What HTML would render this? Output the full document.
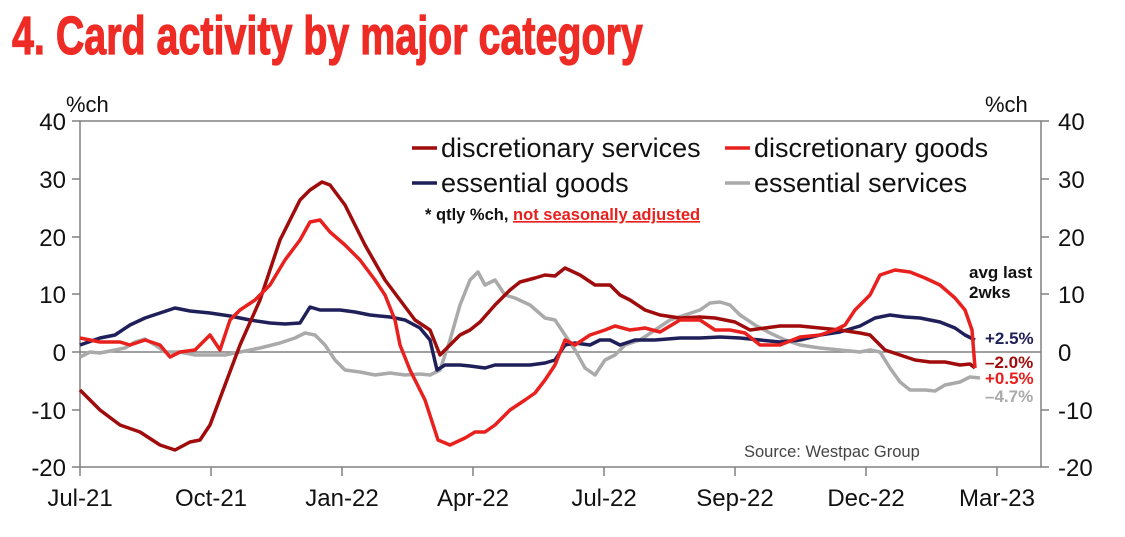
<!DOCTYPE html>
<html><head><meta charset="utf-8"><style>
body{margin:0;background:#fff;width:1125px;height:532px;overflow:hidden;font-family:"Liberation Sans",sans-serif}
</style></head><body>
<svg width="1125" height="532" viewBox="0 0 1125 532" xmlns="http://www.w3.org/2000/svg" font-family="Liberation Sans, sans-serif">
<text x="12" y="54" font-size="54" font-weight="bold" fill="#EE2B24" stroke="#EE2B24" stroke-width="1.2" transform="translate(12 0) scale(0.73 1) translate(-12 0)">4. Card activity by major category</text>
<g stroke="#808080" stroke-width="1.5" fill="none">
<rect x="80" y="121" width="961" height="346"/>
<line x1="80" y1="352" x2="1041" y2="352"/>
<line x1="72" y1="121" x2="80" y2="121"/><line x1="72" y1="179" x2="80" y2="179"/><line x1="72" y1="237" x2="80" y2="237"/><line x1="72" y1="294" x2="80" y2="294"/><line x1="72" y1="352" x2="80" y2="352"/><line x1="72" y1="410" x2="80" y2="410"/><line x1="72" y1="467" x2="80" y2="467"/>
<line x1="1041" y1="121" x2="1049" y2="121"/><line x1="1041" y1="179" x2="1049" y2="179"/><line x1="1041" y1="237" x2="1049" y2="237"/><line x1="1041" y1="294" x2="1049" y2="294"/><line x1="1041" y1="410" x2="1049" y2="410"/><line x1="1041" y1="467" x2="1049" y2="467"/>
<line x1="80" y1="467" x2="80" y2="476"/><line x1="211" y1="467" x2="211" y2="476"/><line x1="342" y1="467" x2="342" y2="476"/><line x1="473" y1="467" x2="473" y2="476"/><line x1="604" y1="467" x2="604" y2="476"/><line x1="735" y1="467" x2="735" y2="476"/><line x1="866" y1="467" x2="866" y2="476"/><line x1="997" y1="467" x2="997" y2="476"/>
</g>
<g font-size="24" fill="#111" text-anchor="end">
<text x="66" y="130">40</text><text x="66" y="188">30</text><text x="66" y="246">20</text><text x="66" y="303">10</text><text x="66" y="361">0</text><text x="66" y="419">-10</text><text x="66" y="476">-20</text>
</g>
<g font-size="24" fill="#111" text-anchor="start">
<text x="1058" y="130">40</text><text x="1058" y="188">30</text><text x="1058" y="246">20</text><text x="1058" y="303">10</text><text x="1058" y="361">0</text><text x="1058" y="419">-10</text><text x="1058" y="476">-20</text>
</g>
<text x="66" y="112" font-size="22" fill="#111">%ch</text>
<text x="985" y="112" font-size="22" fill="#111">%ch</text>
<g font-size="24" fill="#111" text-anchor="middle">
<text x="80" y="506">Jul-21</text><text x="211" y="506">Oct-21</text><text x="342" y="506">Jan-22</text><text x="473" y="506">Apr-22</text><text x="604" y="506">Jul-22</text><text x="735" y="506">Sep-22</text><text x="866" y="506">Dec-22</text><text x="997" y="506">Mar-23</text>
</g>
<g fill="none" stroke-width="3.5" stroke-linejoin="round">
<polyline stroke="#AAAAAA" points="80,357 90,352 100,353 115,350 125,348 135,342 145,339 155,345 165,352 180,352 195,355 210,355 225,355 240,352 260,348 280,343 295,338 305,333 315,335 325,345 335,360 345,370 360,372 375,375 390,373 405,375 420,374 430,375 440,370 450,340 460,305 470,280 478,272 485,285 495,280 505,295 515,298 530,305 545,318 555,320 565,335 575,350 585,368 595,375 605,360 615,355 625,345 640,340 655,330 670,320 685,315 700,310 710,303 720,302 730,305 740,315 755,325 770,333 785,340 800,345 820,348 840,350 860,352 870,350 880,352 890,368 900,382 910,390 925,390 935,391 945,385 960,382 970,377 980,378"/>
<polyline stroke="#1F1F5A" points="80,345 100,338 115,335 130,325 145,318 160,313 175,308 190,311 210,313 230,316 250,320 270,323 285,324 300,323 310,307 320,310 340,310 355,312 370,315 390,317 405,320 420,328 430,340 437,370 445,365 460,365 470,366 485,368 495,365 510,365 530,365 545,363 555,360 565,345 575,343 590,345 600,340 610,340 620,345 635,340 655,340 680,338 700,338 720,337 740,338 760,340 780,342 800,340 820,335 840,332 860,326 875,318 890,315 905,317 920,318 940,322 955,328 965,335 975,340"/>
<polyline stroke="#A00C0C" points="80,390 100,410 120,425 140,432 160,445 175,450 190,442 200,440 210,425 225,385 240,345 260,300 280,240 300,200 310,190 322,182 330,185 345,205 365,245 385,280 400,300 415,320 430,330 440,355 450,345 460,335 470,330 480,322 495,305 510,290 520,282 535,278 545,275 555,276 565,268 580,275 595,285 610,285 620,295 630,300 645,310 660,315 680,318 700,317 715,318 735,322 750,330 765,328 780,326 800,326 820,328 840,330 860,333 870,335 885,350 900,355 915,360 930,362 945,362 960,365 970,364 975,368"/>
<polyline stroke="#E8201E" points="80,338 100,342 120,342 130,345 145,340 160,345 170,357 180,352 195,350 210,335 220,350 230,320 240,310 255,300 270,285 285,260 300,240 310,222 320,220 330,232 345,245 360,260 375,280 385,295 395,320 400,345 410,370 425,400 438,440 450,445 465,438 475,432 485,432 495,425 510,410 525,400 535,393 545,380 555,365 565,340 575,345 590,335 605,330 615,326 630,330 645,328 660,332 680,320 700,320 715,330 730,330 745,333 760,345 780,345 800,337 820,335 835,330 845,325 855,310 870,295 880,275 895,270 910,272 925,278 940,285 955,298 965,310 972,330 975,368"/>
</g>
<g stroke-width="3.5">
<line x1="412" y1="148" x2="437" y2="148" stroke="#A00C0C"/>
<line x1="725" y1="148" x2="750" y2="148" stroke="#E8201E"/>
<line x1="412" y1="183" x2="437" y2="183" stroke="#1F1F5A"/>
<line x1="725" y1="183" x2="750" y2="183" stroke="#AAAAAA"/>
</g>
<g font-size="27" fill="#111">
<text x="441" y="157">discretionary services</text>
<text x="754" y="157">discretionary goods</text>
<text x="441" y="192">essential goods</text>
<text x="754" y="192">essential services</text>
</g>
<text x="425" y="220" font-size="16.5" font-weight="bold" fill="#111">* qtly %ch, <tspan fill="#E8201E" text-decoration="underline">not seasonally adjusted</tspan></text>
<text x="744" y="457" font-size="16.5" fill="#444">Source: Westpac Group</text>
<g font-size="17" font-weight="bold">
<text x="969" y="278" fill="#111">avg last</text>
<text x="969" y="298" fill="#111">2wks</text>
<text x="985" y="344" fill="#1F1F5A">+2.5%</text>
<text x="985" y="368" fill="#A00C0C">–2.0%</text>
<text x="985" y="384" fill="#E8201E">+0.5%</text>
<text x="985" y="402" fill="#AAAAAA">–4.7%</text>
</g>
</svg>
</body></html>
